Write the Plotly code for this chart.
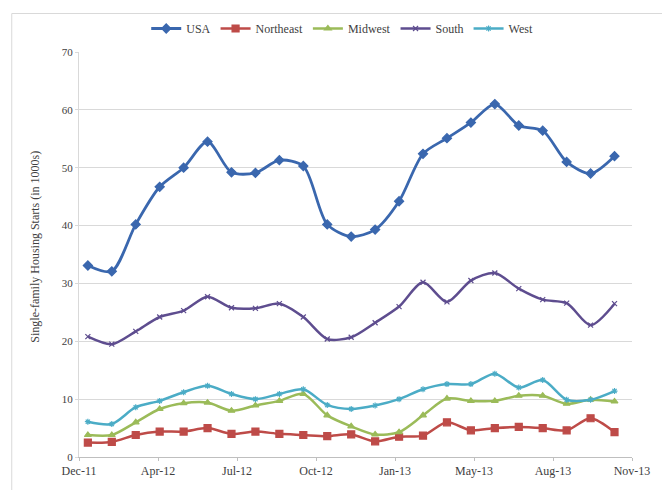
import plotly.graph_objects as go

months = ["Dec-11", "Jan-12", "Feb-12", "Mar-12", "Apr-12", "May-12", "Jun-12", "Jul-12",
          "Aug-12", "Sep-12", "Oct-12", "Nov-12", "Dec-12", "Jan-13", "Feb-13", "Mar-13",
          "Apr-13", "May-13", "Jun-13", "Jul-13", "Aug-13", "Sep-13", "Oct-13"]

usa = [33.1, 32.1, 40.2, 46.7, 50.0, 54.5, 49.2, 49.1, 51.3, 50.3, 40.2, 38.1,
       39.3, 44.2, 52.4, 55.1, 57.8, 61.0, 57.3, 56.4, 51.0, 49.0, 52.0]
northeast = [2.5, 2.6, 3.8, 4.4, 4.4, 5.0, 4.0, 4.4, 4.0, 3.8, 3.6, 3.9,
             2.7, 3.5, 3.7, 6.0, 4.6, 5.0, 5.2, 5.0, 4.6, 6.7, 4.3]
midwest = [3.8, 3.8, 6.0, 8.3, 9.3, 9.4, 8.0, 8.9, 9.7, 10.9, 7.2, 5.3,
           3.9, 4.3, 7.2, 10.1, 9.7, 9.7, 10.6, 10.6, 9.2, 9.9, 9.6]
south = [20.8, 19.5, 21.7, 24.2, 25.3, 27.7, 25.8, 25.7, 26.5, 24.2, 20.4, 20.7,
         23.2, 26.0, 30.2, 26.8, 30.5, 31.8, 29.1, 27.2, 26.6, 22.8, 26.5]
west = [6.1, 5.7, 8.6, 9.7, 11.2, 12.3, 10.9, 10.0, 10.9, 11.7, 9.0, 8.3,
        8.9, 10.0, 11.7, 12.6, 12.6, 14.4, 12.0, 13.3, 9.9, 9.9, 11.4]

tick_labels = ["Dec-11", "Apr-12", "Jul-12", "Oct-12", "Jan-13", "May-13", "Aug-13", "Nov-13"]

x = list(range(len(months)))
x_min, x_max = -0.37, 22.73
step = (x_max - x_min) / (len(tick_labels) - 1)
tick_vals = [x_min + step * k for k in range(len(tick_labels))]

FONT = "Liberation Serif"

series = [
    ("USA", usa, "#3A67AE", "diamond", 7, 2.8),
    ("Northeast", northeast, "#BE4B48", "square", 7, 2.5),
    ("Midwest", midwest, "#9BBB59", "triangle-up", 6, 2.5),
    ("South", south, "#5E4D8F", "x-thin-open", 5, 2.5),
    ("West", west, "#4BACC6", "asterisk-open", 5, 2.5),
]

fig = go.Figure()
for name, vals, color, sym, size, lw in series:
    fig.add_trace(go.Scatter(
        x=x, y=vals, name=name, mode="lines+markers",
        line=dict(color=color, width=lw, shape="spline", smoothing=0.8),
        marker=dict(symbol=sym, size=size, color=color,
                    line=dict(color=color, width=1.2)),
        customdata=months,
    ))

fig.update_layout(
    width=662, height=490,
    margin=dict(l=79, r=24, t=52, b=28),
    paper_bgcolor="white", plot_bgcolor="white",
    font=dict(family=FONT, size=12, color="#404040"),
    showlegend=True,
    legend=dict(orientation="h", x=0.476, xanchor="center", y=1.058, yanchor="middle",
                font=dict(family=FONT, size=12, color="#404040"),
                itemwidth=30, tracegroupgap=0, bgcolor="rgba(0,0,0,0)"),
    xaxis=dict(range=[x_min, x_max], tickvals=tick_vals, ticktext=tick_labels,
               showgrid=False, zeroline=False, showline=True, linecolor="#BFBFBF",
               linewidth=1, ticks="outside", ticklen=3, tickcolor="#BFBFBF",
               tickfont=dict(family=FONT, size=12, color="#404040")),
    yaxis=dict(range=[0, 70], dtick=10, showgrid=True, gridcolor="#D9D9D9", gridwidth=1,
               zeroline=False, showline=True, linecolor="#D9D9D9", linewidth=1,
               ticks="outside", ticklen=3, tickcolor="#D9D9D9",
               tickfont=dict(family=FONT, size=11, color="#404040")),
    annotations=[dict(text="Single-family Housing Starts (in 1000s)", textangle=-90,
                      xref="paper", yref="paper", x=-0.079, y=0.52,
                      xanchor="center", yanchor="middle", showarrow=False,
                      font=dict(family=FONT, size=12, color="#404040"))],
    shapes=[dict(type="rect", xref="paper", yref="paper",
                 x0=-0.1216, x1=1.2, y0=-0.2, y1=1.095,
                 line=dict(color="#D9D9D9", width=1), fillcolor="rgba(0,0,0,0)",
                 layer="below")],
)

fig.write_html("out.html")
